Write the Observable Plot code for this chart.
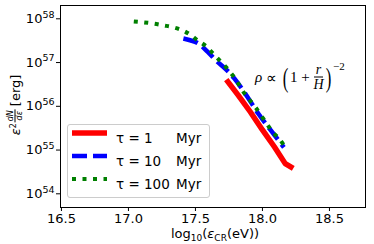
<!DOCTYPE html>
<html><head><meta charset="utf-8">
<script src="https://cdn.jsdelivr.net/npm/d3@7"></script>
<script src="https://cdn.jsdelivr.net/npm/@observablehq/plot@0.6"></script>
<style>
body{margin:0;background:#fff;}
#wrap{position:relative;width:374px;height:244px;font-family:"DejaVu Sans",sans-serif;color:#000;overflow:hidden;}
#wrap svg{position:absolute;left:0;top:0;}
.ov{position:absolute;white-space:nowrap;}
#ylab{left:15px;top:105px;transform:translate(-50%,-50%) rotate(-90deg);font-size:13px;display:flex;align-items:center;}
#xlab{left:215px;top:235px;transform:translate(-50%,-50%);font-size:13px;line-height:1;}
.frac{display:inline-flex;flex-direction:column;align-items:center;vertical-align:middle;line-height:1;}
.frac .n{border-bottom:0.8px solid #000;padding:0 1px;}
#ylab .frac{font-size:8px;font-style:italic;margin-left:1px;margin-right:3px;}
#ylab .eps{font-style:italic;}
#ylab sup{font-size:8px;position:relative;top:-2px;}
#ann{left:255px;top:77px;transform:translateY(-50%);font-family:"Liberation Serif",serif;font-size:15px;display:flex;align-items:center;}
#ann i{font-style:italic;}
#ann .paren{font-size:28px;transform:scaleX(0.6);display:inline-block;line-height:1;}
#ann .frac{font-size:14px;margin:0 0px;}
#ann .frac .n{padding:0 2px;}
#ann sup{font-size:11px;align-self:flex-start;margin-top:-3px;}
#legend{left:67px;top:124px;width:143px;height:74px;box-sizing:border-box;border:1px solid #ccc;border-radius:3px;background:rgba(255,255,255,0.8);font-size:13.5px;}
.row{position:absolute;left:0;height:20px;display:flex;align-items:center;}
.row svg{position:static;margin-left:4px;}
.row .lab{position:absolute;left:48px;}
.row .myr{position:absolute;left:108px;}
</style></head><body><div id="wrap"></div><script>
// energies log10(eV) and log10(erg)
const redX = [17.73, 17.82, 17.91, 18.00, 18.09, 18.17, 18.23];
const redY = [56.61, 56.25, 55.87, 55.46, 55.07, 54.69, 54.58];
const blueX = [17.41, 17.46, 17.52, 17.59, 17.66, 17.73, 17.79, 17.87, 17.97, 18.07, 18.16];
const blueY = [57.55, 57.51, 57.44, 57.25, 57.03, 56.84, 56.64, 56.30, 55.83, 55.42, 55.06];
const greenX = [17.04, 17.11, 17.19, 17.26, 17.33, 17.40, 17.46, 17.52, 17.58, 17.63, 17.68, 17.73, 17.78, 17.82, 17.86, 17.90, 17.95, 18.03, 18.08, 18.13, 18.17];
const greenY = [57.94, 57.92, 57.89, 57.85, 57.81, 57.74, 57.64, 57.50, 57.37, 57.21, 57.05, 56.89, 56.70, 56.52, 56.32, 56.16, 55.97, 55.61, 55.40, 55.24, 55.06];
const xTicks = [16.5, 17.0, 17.5, 18.0, 18.5];
const yTicks = [54, 55, 56, 57, 58];
const seriesNames = ["1", "10", "100"];
const seriesColors = ["#ff0000", "#0000ff", "#008000"];

const toPts = (xs, ys) => xs.map((x, i) => ({x, y: ys[i]}));
const red = toPts(redX, redY), blue = toPts(blueX, blueY), green = toPts(greenX, greenY);

const plot = Plot.plot({
  width: 374, height: 244,
  marginLeft: 60, marginRight: 9, marginTop: 5, marginBottom: 37,
  style: {fontFamily: "DejaVu Sans, sans-serif", fontSize: "13px", background: "transparent", color: "#000"},
  x: {domain: [16.493, 18.769], ticks: xTicks, tickFormat: d3.format(".1f"), label: null, tickSize: 4, tickPadding: 2},
  y: {domain: [53.687, 58.304], ticks: yTicks, tickFormat: d => String(d), label: null, tickSize: 4, tickPadding: 2},
  marks: [
    Plot.line(red, {x: "x", y: "y", stroke: seriesColors[0], strokeWidth: 5.5, strokeLinecap: "butt", strokeLinejoin: "round"}),
    Plot.line(blue, {x: "x", y: "y", stroke: seriesColors[1], strokeWidth: 4.5, strokeDasharray: "15,6", strokeLinecap: "butt", curve: "catmull-rom"}),
    Plot.line(green, {x: "x", y: "y", stroke: seriesColors[2], strokeWidth: 4, strokeDasharray: "4,6.5", strokeLinecap: "butt", curve: "catmull-rom"}),
    Plot.frame({stroke: "#000", strokeWidth: 1, strokeOpacity: 1})
  ]
});
const wrap = document.getElementById("wrap");
wrap.appendChild(plot);

// y tick labels as 10^n with superscript
d3.select(plot).selectAll('g[aria-label="y-axis tick label"] text').each(function() {
  const t = d3.select(this);
  const n = t.text();
  t.text(null);
  t.append("tspan").text("10");
  t.append("tspan").attr("dy", "-0.55em").attr("font-size", "9.5px").text(n);
});
d3.select(plot).selectAll('g[aria-label$="tick"]').attr("stroke", "#000");

// axis labels, annotation, legend
wrap.insertAdjacentHTML("beforeend", `
<div class="ov" id="ylab"><span class="eps">ε</span><sup>2</sup><span class="frac"><span class="n">dN</span><span>dε</span></span><span>[erg]</span></div>
<div class="ov" id="xlab">log<sub style="font-size:9px">10</sub>(<i>ε</i><sub style="font-size:9px">CR</sub>(eV))</div>
<div class="ov" id="ann"><i>ρ</i>&nbsp;∝&nbsp;<span class="paren">(</span>1&nbsp;+&nbsp;<span class="frac"><span class="n"><i>r</i></span><span><i>H</i></span></span><span class="paren">)</span><sup>−2</sup></div>
<div class="ov" id="legend"></div>`);
const leg = document.getElementById("legend");
const dashes = [null, "15,6", "4,6.5"];
const widths = [5.5, 4.5, 4];
seriesNames.forEach((name, i) => {
  const row = document.createElement("div");
  row.className = "row";
  row.style.top = (3 + i * 23) + "px";
  row.innerHTML = `<svg width="36" height="10"><line x1="0" x2="35" y1="5" y2="5" stroke="${seriesColors[i]}" stroke-width="${widths[i]}" ${dashes[i] ? `stroke-dasharray="${dashes[i]}"` : ""}/></svg><span class="lab">τ = ${name}</span><span class="myr">Myr</span>`;
  leg.appendChild(row);
});
</script></body></html>
